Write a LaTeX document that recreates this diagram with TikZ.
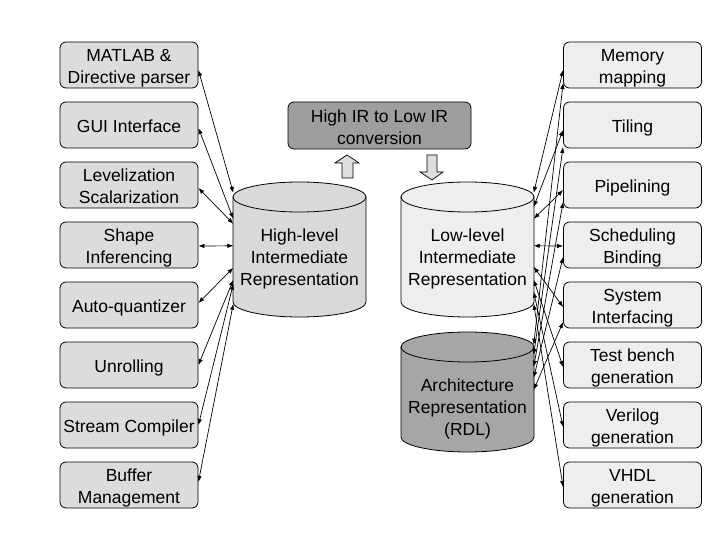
\documentclass[tikz,border=0pt]{standalone}
\usepackage{fontspec}
\setmainfont{Liberation Sans}
\usetikzlibrary{arrows.meta,calc}
\definecolor{lbox}{HTML}{DCDCDC}
\definecolor{rbox}{HTML}{EEEEEE}
\definecolor{hcyl}{HTML}{D9D9D9}
\definecolor{lcyl}{HTML}{EEEEEE}
\definecolor{acyl}{HTML}{A6A6A6}
\definecolor{cbox}{HTML}{9E9E9E}
\definecolor{barr}{HTML}{DDDDDD}
\newcommand{\boxtxt}[1]{\raisebox{-3.5pt}[\height][\depth]{\begin{tabular}{@{}c@{}}#1\end{tabular}}}
\tikzset{
  txt/.style={font=\fontsize{17.5}{22}\selectfont, align=center, inner sep=0pt},
  modbox/.style={font=\fontsize{17.5}{22}\selectfont, inner sep=0pt,
    draw, line width=0.8pt, rounded corners=6pt,
    minimum width=138pt, minimum height=46pt},
  leftbox/.style={modbox, fill=lbox},
  rightbox/.style={modbox, fill=rbox},
  frame/.style={inner sep=0pt, minimum width=132pt, minimum height=135pt},
  link/.style={line width=0.7pt, {Latex[length=6pt,width=4.5pt]}-{Latex[length=6pt,width=4.5pt]}},
  cylline/.style={line width=0.8pt},
  blockarrow/.style={fill=barr, draw, line width=0.7pt}
}
\begin{document}
\begin{tikzpicture}[x=1pt,y=-1pt]
\useasboundingbox (0,0) rectangle (720,540);
\fill[white] (0,0) rectangle (720,540);

% cylinders
\newcommand{\drawcyl}[4]{% #1 left x, #2 top centre y, #3 bottom centre y, #4 colour
  \filldraw[cylline, fill=#4] (#1,#2) -- (#1,#3)
     arc[start angle=180, end angle=0, x radius=66.5, y radius=15] -- ({#1+133},#2) -- cycle;
  \filldraw[cylline, fill=#4] ({#1+66.5},#2) ellipse [x radius=66.5, y radius=15];
}
\drawcyl{233}{197}{302}{hcyl}
\drawcyl{401}{197}{302}{lcyl}
\drawcyl{401}{347}{437}{acyl}

\node[frame] (hl) at (299.5,249.5) {};
\node[frame] (ll) at (467.5,249.5) {};
\node[frame, minimum height=120pt] (ar) at (467.5,392) {};

\node[txt] (hltext) at (299.5,259) {High-level\\Intermediate\\Representation};
\node[txt] (lltext) at (467.5,259) {Low-level\\Intermediate\\Representation};
\node[txt] (artext) at (467.5,409) {Architecture\\Representation\\(RDL)};

% conversion box
\node[modbox, fill=cbox, minimum width=183pt, minimum height=47pt] (conv) at (379.5,125.5)
  {\boxtxt{High IR to Low IR\\conversion}};

% block arrows
\filldraw[blockarrow] (347,155) -- (359,163) -- (353,163) -- (353,178) -- (342,178)
  -- (342,163) -- (335,163) -- cycle;
\filldraw[blockarrow] (432,180) -- (443,172) -- (437,172) -- (437,155) -- (427,155)
  -- (427,172) -- (420,172) -- cycle;

% left boxes
\node[leftbox] (l1) at (129,65)  {\boxtxt{MATLAB \&\\Directive parser}};
\node[leftbox] (l2) at (129,125) {\boxtxt{GUI Interface}};
\node[leftbox] (l3) at (129,185) {\boxtxt{Levelization\\Scalarization}};
\node[leftbox] (l4) at (129,245) {\boxtxt{Shape\\Inferencing}};
\node[leftbox] (l5) at (129,305) {\boxtxt{Auto-quantizer}};
\node[leftbox] (l6) at (129,365) {\boxtxt{Unrolling}};
\node[leftbox] (l7) at (129,425) {\boxtxt{Stream Compiler}};
\node[leftbox] (l8) at (129,485) {\boxtxt{Buffer\\Management}};

% right boxes
\node[rightbox] (r1) at (632.5,65)  {\boxtxt{Memory\\mapping}};
\node[rightbox] (r2) at (632.5,125) {\boxtxt{Tiling}};
\node[rightbox] (r3) at (632.5,185) {\boxtxt{Pipelining}};
\node[rightbox] (r4) at (632.5,245) {\boxtxt{Scheduling\\Binding}};
\node[rightbox] (r5) at (632.5,305) {\boxtxt{System\\Interfacing}};
\node[rightbox] (r6) at (632.5,365) {\boxtxt{Test bench\\generation}};
\node[rightbox] (r7) at (632.5,425) {\boxtxt{Verilog\\generation}};
\node[rightbox] (r8) at (632.5,485) {\boxtxt{VHDL\\generation}};

% left connectors
\draw[link] ([yshift=-5pt]l1.east) -- ([yshift=-11pt]hl.north west);
\draw[link] ([yshift=-3pt]l2.east) -- ([yshift=-37pt]hl.north west);
\draw[link] ([yshift=-3pt]l3.east) -- ([yshift=-42pt]hl.north west);
\draw[link] ([yshift=-1pt]l4.east) -- ([yshift=-64pt]hl.north west);
\draw[link] ([yshift=2pt]l5.east)  -- ([yshift=-86pt]hl.north west);
\draw[link] (l6.east) -- ([yshift=-98pt]hl.north west);
\draw[link] (l7.east) -- ([yshift=-102pt]hl.north west);
\draw[link] ([yshift=3pt]l8.east)  -- ([yshift=-122pt]hl.north west);

% right connectors
\draw[link] ([yshift=-5pt]r1.west)  -- ([yshift=-11pt]ll.north east);
\draw[link] ([yshift=-18pt]r1.west) -- ([yshift=-13pt]ar.north east);
\draw[link] ([yshift=-5pt]r2.west)  -- ([yshift=-25pt]ll.north east);
\draw[link] ([yshift=-22pt]r2.west) -- ([yshift=-23pt]ar.north east);
\draw[link] ([yshift=-5pt]r3.west)  -- ([yshift=-37pt]ll.north east);
\draw[link] ([yshift=-17pt]r3.west) -- ([yshift=-35pt]ar.north east);
\draw[link] ([yshift=-1pt]r4.west)  -- ([yshift=-64pt]ll.north east);
\draw[link] ([yshift=-12pt]r4.west) -- ([yshift=-46pt]ar.north east);
\draw[link] ([yshift=-2pt]r5.west)  -- ([yshift=-85pt]ll.north east);
\draw[link] ([yshift=-17pt]r5.west) -- ([yshift=-58pt]ar.north east);
\draw[link] ([yshift=-2pt]r6.west)  -- ([yshift=-98pt]ll.north east);
\draw[link] ([yshift=-2pt]r7.west)  -- ([yshift=-110pt]ll.north east);
\draw[link] ([yshift=-2pt]r8.west)  -- ([yshift=-122pt]ll.north east);
\end{tikzpicture}
\end{document}
